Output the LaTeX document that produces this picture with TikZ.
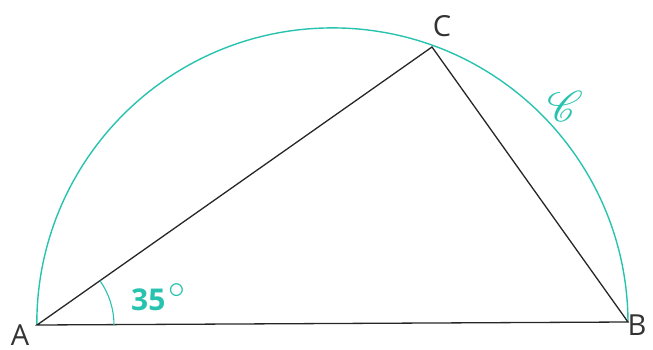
\documentclass[tikz,border=0pt]{standalone}
\usepackage{fontspec}
\setmainfont{Open Sans}
\usepackage{mathrsfs}
\usepackage{graphicx}
\definecolor{cy}{RGB}{40,195,175}
\begin{document}
\begin{tikzpicture}[x=1pt,y=1pt,
  seg/.style={draw=black!85,line width=1.3pt},
  arcst/.style={draw=cy,line width=1.4pt},
  lab/.style={font=\fontsize{29}{29}\selectfont\color{black!80},inner sep=0pt}]
\useasboundingbox (0,0) rectangle (653,349);
\coordinate (A) at (37,24);
\coordinate (B) at (628,27);
\coordinate (C) at (432,302);
\draw[arcst] (B) arc[start angle=0.29,end angle=180.29,radius=295.6];
\draw[seg] (A) -- (B) -- (C) -- cycle;
\draw[arcst,line width=1.1pt] ([shift={(77,0)}]A) arc[start angle=0,end angle=35.1,radius=77];
\node[lab] (la) at (20,13.5) {A};
\node[lab] (lb) at (637,24) {B};
\node[lab] (lc) at (442,323) {C};
\node[inner sep=0pt,text=cy] (ls) at (565,243) {\scalebox{4.3}{$\mathscr{C}$}};
\node[inner sep=0pt,text=cy,anchor=west] (ang) at (131,52) {\fontsize{30}{30}\selectfont\bfseries 35\hspace{3pt}\raisebox{0.42em}{\scalebox{1.35}{\mdseries$\circ$}}};
\end{tikzpicture}
\end{document}
